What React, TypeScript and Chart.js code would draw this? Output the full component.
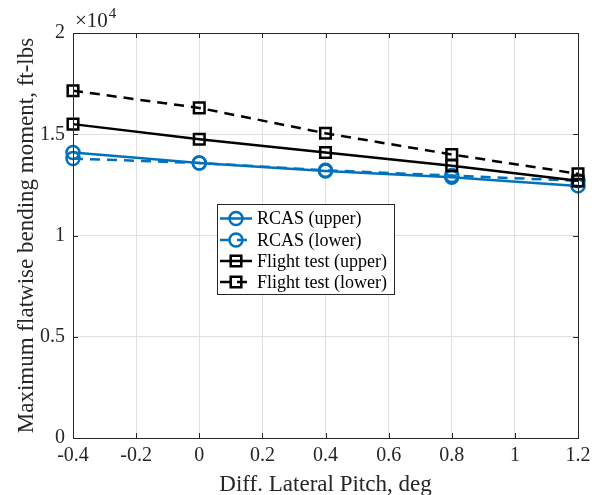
import React, { useEffect, useRef } from 'react';
import { Chart, registerables } from 'chart.js';

Chart.register(...registerables);

// Differential lateral pitch settings (deg)
const pitch = [-0.4, 0, 0.4, 0.8, 1.2];

// Maximum flatwise bending moment (ft-lbs)
const rcasUpper = [14100, 13580, 13180, 12880, 12450];
const rcasLower = [13800, 13580, 13220, 12960, 12700];
const flightUpper = [15500, 14750, 14100, 13450, 12700];
const flightLower = [17150, 16300, 15050, 14000, 13050];

const seriesLabels = ['RCAS (upper)', 'RCAS (lower)', 'Flight test (upper)', 'Flight test (lower)'];

const xTickValues = [-0.4, -0.2, 0, 0.2, 0.4, 0.6, 0.8, 1, 1.2];
const xTickLabels = ['-0.4', '-0.2', '0', '0.2', '0.4', '0.6', '0.8', '1', '1.2'];
const yTickValues = [0, 5000, 10000, 15000, 20000];
const yTickLabels = ['0', '0.5', '1', '1.5', '2'];

const SERIF = '"Liberation Serif", "DejaVu Serif", serif';
const AXIS_COLOR = '#262626';
const GRID_COLOR = '#e0e0e0';
const BLUE = '#0072BD';
const BLACK = '#000000';

const toPoints = (ys: number[]) => pitch.map((x, i) => ({ x, y: ys[i] }));

// Draws the axes box with inward ticks, the exponent label and the legend
const decorations = {
  id: 'matlabDecor',
  afterDraw(chart: any) {
    const { ctx, chartArea } = chart;
    const { left, right, top, bottom } = chartArea;
    const xs = chart.scales.x;
    const ys = chart.scales.y;
    ctx.save();

    // box
    ctx.strokeStyle = AXIS_COLOR;
    ctx.lineWidth = 1;
    ctx.setLineDash([]);
    ctx.strokeRect(Math.round(left) + 0.5, Math.round(top) + 0.5, Math.round(right - left), Math.round(bottom - top));

    // inward ticks
    const tl = 5;
    ctx.beginPath();
    xTickValues.forEach((v) => {
      const px = Math.round(xs.getPixelForValue(v)) + 0.5;
      ctx.moveTo(px, bottom);
      ctx.lineTo(px, bottom - tl);
      ctx.moveTo(px, top);
      ctx.lineTo(px, top + tl);
    });
    yTickValues.forEach((v) => {
      const py = Math.round(ys.getPixelForValue(v)) + 0.5;
      ctx.moveTo(left, py);
      ctx.lineTo(left + tl, py);
      ctx.moveTo(right, py);
      ctx.lineTo(right - tl, py);
    });
    ctx.stroke();

    // exponent label
    ctx.fillStyle = AXIS_COLOR;
    ctx.textBaseline = 'alphabetic';
    ctx.textAlign = 'left';
    ctx.font = `21px ${SERIF}`;
    const base = '\u00d710';
    ctx.fillText(base, left + 2, top - 6);
    const w = ctx.measureText(base).width;
    ctx.font = `15px ${SERIF}`;
    ctx.fillText('4', left + 2 + w + 1, top - 15);

    // legend
    const lx = 217, ly = 204, lw = 177, lh = 90;
    ctx.fillStyle = '#ffffff';
    ctx.fillRect(lx, ly, lw, lh);
    ctx.strokeStyle = AXIS_COLOR;
    ctx.lineWidth = 1;
    ctx.strokeRect(lx + 0.5, ly + 0.5, lw, lh);
    const rowY = [218.5, 240, 261, 282];
    chart.data.datasets.forEach((ds: any, i: number) => {
      const y = rowY[i];
      ctx.strokeStyle = ds.borderColor;
      ctx.lineWidth = ds.borderWidth;
      ctx.setLineDash(ds.borderDash || []);
      ctx.beginPath();
      ctx.moveTo(220, y);
      ctx.lineTo(252, y);
      ctx.stroke();
      ctx.setLineDash([]);
      ctx.lineWidth = ds.pointBorderWidth;
      ctx.beginPath();
      const cx = 236;
      if (ds.pointStyle === 'circle') {
        ctx.arc(cx, y, ds.pointRadius, 0, Math.PI * 2);
      } else {
        const s = Math.SQRT1_2 * ds.pointRadius;
        ctx.rect(cx - s, y - s, 2 * s, 2 * s);
      }
      ctx.stroke();
      ctx.fillStyle = '#000000';
      ctx.font = `18px ${SERIF}`;
      ctx.textBaseline = 'middle';
      ctx.fillText(ds.label, 257, y + 1);
    });

    ctx.restore();
  },
};

export default function App() {
  const canvasRef = useRef<HTMLCanvasElement | null>(null);

  useEffect(() => {
    document.body.style.margin = '0';
    const canvas = canvasRef.current;
    if (!canvas) return;

    const mk = (i: number, data: number[], color: string, dashed: boolean, style: string, radius: number) => ({
      label: seriesLabels[i],
      data: toPoints(data),
      borderColor: color,
      backgroundColor: 'transparent',
      borderWidth: 2.5,
      borderDash: dashed ? [10, 7] : [],
      pointStyle: style,
      pointRadius: radius,
      pointHoverRadius: radius,
      pointBorderWidth: 2.5,
      pointBorderColor: color,
      pointBackgroundColor: 'transparent',
      fill: false,
      tension: 0,
      clip: false,
      order: 4 - i,
    });

    const chart = new Chart(canvas, {
      type: 'line',
      data: {
        datasets: [
          mk(0, rcasUpper, BLUE, false, 'circle', 6.5),
          mk(1, rcasLower, BLUE, true, 'circle', 6.5),
          mk(2, flightUpper, BLACK, false, 'rect', 7.5),
          mk(3, flightLower, BLACK, true, 'rect', 7.5),
        ] as any,
      },
      options: {
        responsive: false,
        animation: false,
        events: [],
        layout: { padding: { left: 0, right: 20, top: 33, bottom: 0 } },
        plugins: {
          legend: { display: false },
          tooltip: { enabled: false },
        },
        scales: {
          x: {
            type: 'linear',
            min: -0.4,
            max: 1.2,
            afterBuildTicks: (scale: any) => {
              scale.ticks = xTickValues.map((value) => ({ value }));
            },
            afterFit: (scale: any) => {
              scale.height = 57;
            },
            ticks: {
              callback: (_v: any, idx: number) => xTickLabels[idx],
              color: AXIS_COLOR,
              font: { family: SERIF, size: 20 },
              padding: 6,
              maxRotation: 0,
              autoSkip: false,
            },
            grid: { color: GRID_COLOR, lineWidth: 1, drawTicks: false },
            border: { display: false },
            title: {
              display: true,
              text: 'Diff. Lateral Pitch, deg',
              color: AXIS_COLOR,
              font: { family: SERIF, size: 23, lineHeight: 1 },
              padding: { top: 0, bottom: -1 },
            },
          },
          y: {
            type: 'linear',
            min: 0,
            max: 20000,
            afterBuildTicks: (scale: any) => {
              scale.ticks = yTickValues.map((value) => ({ value }));
            },
            afterFit: (scale: any) => {
              scale.width = 73;
            },
            ticks: {
              callback: (_v: any, idx: number) => yTickLabels[idx],
              color: AXIS_COLOR,
              font: { family: SERIF, size: 20 },
              padding: 8,
              autoSkip: false,
            },
            grid: { color: GRID_COLOR, lineWidth: 1, drawTicks: false },
            border: { display: false },
            title: {
              display: true,
              text: 'Maximum flatwise bending moment, ft-lbs',
              color: AXIS_COLOR,
              font: { family: SERIF, size: 23, lineHeight: 1 },
              padding: { top: 15, bottom: 0 },
            },
          },
        },
      },
      plugins: [decorations],
    });

    return () => chart.destroy();
  }, []);

  return (
    <div style={{ position: 'absolute', left: 0, top: 0, width: 598, height: 495, background: '#ffffff' }}>
      <canvas ref={canvasRef} width={598} height={495} style={{ display: 'block' }} />
    </div>
  );
}
